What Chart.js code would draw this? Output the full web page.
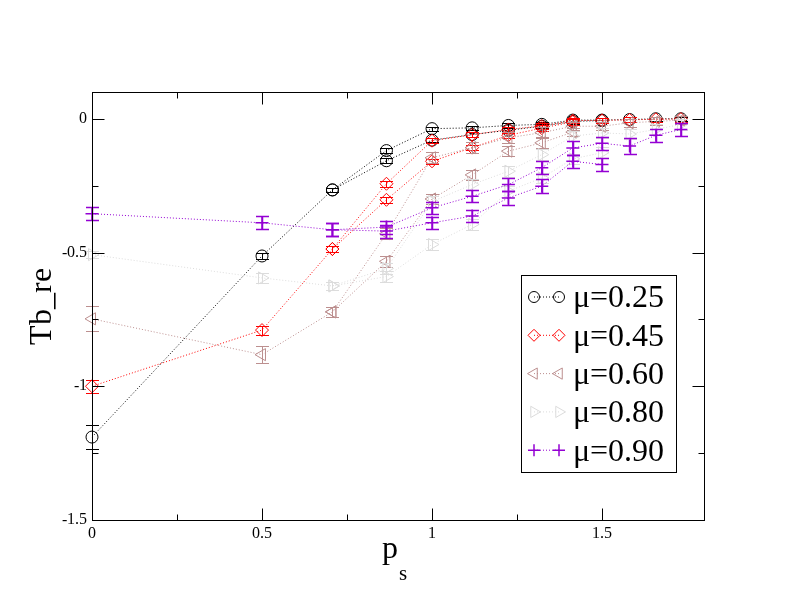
<!DOCTYPE html>
<html>
<head>
<meta charset="utf-8">
<script src="https://cdn.jsdelivr.net/npm/chart.js@4/dist/chart.umd.min.js"></script>
<style>
  @font-face {
    font-family: 'RefSerif';
    src: local('Liberation Serif'), local('LiberationSerif'), local('LiberationSerif-Regular'),
         local('DejaVu Serif'), local('DejaVuSerif');
  }
  body { margin: 0; background: #fff; }
  canvas { display: block; }
</style>
</head>
<body>
<canvas id="myChart" width="792" height="612"></canvas>
<script>
// momentum values p_s = sqrt(n)/2
const ps = [0, 0.5, 0.7071, 0.8660, 1.0, 1.1180, 1.2247, 1.3229, 1.4142, 1.5, 1.5811, 1.6583, 1.7321];
const muLabels = ['μ=0.25', 'μ=0.45', 'μ=0.60', 'μ=0.80', 'μ=0.90'];

// two branches for every mu (null = no point)
const tb025a = [-1.19, -0.513, -0.266, -0.119, -0.037, -0.034, -0.025, -0.021, -0.005, -0.005, -0.003, 0.0, 0.0];
const tb025b = [null, null, -0.266, -0.157, -0.080, -0.059, -0.043, -0.028, -0.010, -0.007, null, null, null];
const tb045a = [-1.0, -0.79, -0.487, -0.243, -0.082, -0.060, -0.040, -0.027, -0.007, -0.006, -0.004, -0.002, -0.001];
const tb045b = [null, null, -0.487, -0.303, -0.159, -0.108, -0.062, -0.035, -0.012, null, null, null, null];
const tb060a = [-0.748, -0.882, -0.722, -0.430, -0.146, -0.108, -0.071, -0.052, -0.028, -0.028, -0.015, -0.010, -0.005];
const tb060b = [null, null, -0.722, -0.533, -0.300, -0.210, -0.121, -0.090, -0.050, null, null, null, null];
const tb080a = [-0.508, -0.595, -0.625, -0.560, -0.310, -0.246, -0.196, -0.134, -0.065, -0.053, -0.057, -0.040, -0.021];
const tb080b = [null, null, -0.625, -0.590, -0.470, -0.395, -0.271, -0.221, -0.150, -0.127, null, null, null];
const tb090a = [-0.355, -0.389, -0.415, -0.405, -0.333, -0.290, -0.246, -0.183, -0.109, -0.092, -0.102, -0.062, -0.040];
const tb090b = [null, null, -0.415, -0.420, -0.389, -0.364, -0.296, -0.252, -0.159, -0.171, null, null, null];

// error bars
const err025a = [0.045, 0.012, 0.008, 0.010, 0.008, 0.008, 0.008, 0.008, 0.008, 0.008, 0.008, 0.008, 0.008];
const err025b = [0, 0, 0.008, 0.010, 0.008, 0.008, 0.008, 0.008, 0.008, 0.008, 0, 0, 0];
const err045a = [0.024, 0.017, 0.010, 0.012, 0.010, 0.010, 0.010, 0.010, 0.010, 0.010, 0.010, 0.010, 0.010];
const err045b = [0, 0, 0.010, 0.012, 0.010, 0.010, 0.010, 0.010, 0.010, 0, 0, 0, 0];
const err060a = [0.047, 0.031, 0.020, 0.020, 0.020, 0.020, 0.020, 0.020, 0.015, 0.015, 0.015, 0.015, 0.015];
const err060b = [0, 0, 0.020, 0.020, 0.020, 0.020, 0.020, 0.020, 0.015, 0, 0, 0, 0];
const err080a = [0.012, 0.018, 0.015, 0.020, 0.020, 0.020, 0.020, 0.020, 0.020, 0.020, 0.020, 0.020, 0.020];
const err080b = [0, 0, 0.015, 0.020, 0.020, 0.020, 0.020, 0.020, 0.020, 0.020, 0, 0, 0];
const err090a = [0.024, 0.024, 0.024, 0.024, 0.022, 0.022, 0.025, 0.025, 0.025, 0.025, 0.030, 0.025, 0.025];
const err090b = [0, 0, 0.024, 0.024, 0.022, 0.022, 0.025, 0.025, 0.025, 0.025, 0, 0, 0];

const series = [
  {label: muLabels[0], a: tb025a, b: tb025b, ea: err025a, eb: err025b, color: '#000000', style: 'circle', rot: 0, r: 6, w: 1},
  {label: muLabels[1], a: tb045a, b: tb045b, ea: err045a, eb: err045b, color: '#ff0000', style: 'rectRot', rot: 0, r: 6.5, w: 1},
  {label: muLabels[2], a: tb060a, b: tb060b, ea: err060a, eb: err060b, color: '#bc8f8f', style: 'triangle', rot: -90, r: 7, w: 1},
  {label: muLabels[3], a: tb080a, b: tb080b, ea: err080a, eb: err080b, color: '#dcdcdc', style: 'triangle', rot: 90, r: 7, w: 1},
  {label: muLabels[4], a: tb090a, b: tb090b, ea: err090a, eb: err090b, color: '#9400d3', style: 'cross', rot: 0, r: 6.5, w: 1.5}
];

const datasets = [];
series.forEach((s, i) => {
  [[s.a, s.ea], [s.b, s.eb]].forEach(([vals, errs], k) => {
    datasets.push({
      label: s.label,
      data: ps.map((x, j) => ({x: x, y: vals[j]})),
      errors: errs,
      borderColor: s.color,
      backgroundColor: 'rgba(0,0,0,0)',
      pointBorderColor: s.color,
      pointBackgroundColor: 'rgba(0,0,0,0)',
      pointStyle: s.style,
      pointRotation: s.rot,
      pointRadius: s.r,
      pointBorderWidth: s.w,
      borderWidth: 1,
      borderDash: [1, 2],
      tension: 0,
      clip: false,
      order: 20 - i * 2 - k
    });
  });
});

const serif = "RefSerif, 'Liberation Serif', 'DejaVu Serif', serif";
const isMajor = v => Math.abs(v * 2 - Math.round(v * 2)) < 1e-6;
const onQuarter = v => Math.abs(v * 4 - Math.round(v * 4)) < 1e-6;
const fmt = v => isMajor(v) ? String(Math.round(v * 100) / 100) : '';

// error bars drawn through the y scale
const errorBars = {
  id: 'errorBars',
  afterDatasetDraw(chart, args) {
    const ds = chart.data.datasets[args.index];
    const yScale = chart.scales.y;
    const ctx = chart.ctx;
    ctx.save();
    ctx.strokeStyle = ds.borderColor;
    ctx.lineWidth = ds.pointBorderWidth;
    args.meta.data.forEach((pt, j) => {
      const v = ds.data[j].y;
      const e = ds.errors[j];
      if (v === null || !e) return;
      const x = Math.round(pt.x) + 0.5;
      const y1 = Math.round(yScale.getPixelForValue(v + e)) + 0.5;
      const y2 = Math.round(yScale.getPixelForValue(v - e)) + 0.5;
      ctx.beginPath();
      ctx.moveTo(x, y1); ctx.lineTo(x, y2);
      ctx.moveTo(x - 6.5, y1); ctx.lineTo(x + 6.5, y1);
      ctx.moveTo(x - 6.5, y2); ctx.lineTo(x + 6.5, y2);
      ctx.stroke();
    });
    ctx.restore();
  }
};

// box frame with inward ticks on all four sides
const frame = {
  id: 'frame',
  afterDatasetsDraw(chart) {
    const {ctx, chartArea: a, scales} = chart;
    ctx.save();
    ctx.strokeStyle = '#000';
    ctx.lineWidth = 1;
    const L = Math.round(a.left) + 0.5, R = Math.round(a.right) + 0.5;
    const T = Math.round(a.top) + 0.5, B = Math.round(a.bottom) + 0.5;
    ctx.strokeRect(L, T, R - L, B - T);
    ctx.beginPath();
    scales.x.ticks.forEach(t => {
      const x = Math.round(scales.x.getPixelForValue(t.value)) + 0.5;
      const len = isMajor(t.value) ? 12 : 6;
      ctx.moveTo(x, B); ctx.lineTo(x, B - len);
      ctx.moveTo(x, T); ctx.lineTo(x, T + len);
    });
    scales.y.ticks.forEach(t => {
      const y = Math.round(scales.y.getPixelForValue(t.value)) + 0.5;
      const len = isMajor(t.value) ? 12 : 6;
      ctx.moveTo(L, y); ctx.lineTo(L + len, y);
      ctx.moveTo(R, y); ctx.lineTo(R - len, y);
    });
    ctx.stroke();
    ctx.restore();
  }
};

// x title with subscript, and the boxed legend
const extras = {
  id: 'extras',
  afterDraw(chart) {
    const {ctx, chartArea: a} = chart;
    ctx.save();
    ctx.fillStyle = '#000';
    ctx.textAlign = 'left';
    ctx.textBaseline = 'alphabetic';
    const cx = (a.left + a.right) / 2;
    ctx.font = '32px ' + serif;
    ctx.fillText('p', cx - 16, a.bottom + 38);
    ctx.font = '21px ' + serif;
    ctx.fillText('s', cx + 1, a.bottom + 60);

    const bx = Math.round(a.right - 183) + 0.5, by = Math.round(a.top + 183) + 0.5;
    const bw = 155, bh = 197;
    ctx.fillStyle = '#fff';
    ctx.fillRect(bx, by, bw, bh);
    ctx.strokeStyle = '#000';
    ctx.lineWidth = 1;
    ctx.strokeRect(bx, by, bw, bh);
    series.forEach((s, i) => {
      const yy = by + 21.5 + i * 38.3;
      ctx.save();
      ctx.strokeStyle = s.color;
      ctx.lineWidth = 1;
      ctx.setLineDash([1, 2]);
      ctx.beginPath();
      ctx.moveTo(bx + 12.5, yy); ctx.lineTo(bx + 37.5, yy);
      ctx.stroke();
      ctx.setLineDash([]);
      ctx.fillStyle = 'rgba(0,0,0,0)';
      ctx.lineWidth = s.w;
      [bx + 12.5, bx + 37.5].forEach(px => {
        Chart.helpers.drawPoint(ctx, {pointStyle: s.style, rotation: s.rot, radius: s.r - 0.5, borderWidth: s.w}, px, yy);
      });
      ctx.restore();
      ctx.fillStyle = '#000';
      ctx.font = '32px ' + serif;
      ctx.textBaseline = 'middle';
      ctx.fillText(s.label, bx + 51, yy + 2);
    });
    ctx.restore();
  }
};

function drawChart() {
  const ctx = document.getElementById('myChart').getContext('2d');
  new Chart(ctx, {
    type: 'line',
    data: {datasets: datasets},
    options: {
      responsive: false,
      animation: false,
      devicePixelRatio: 1,
      events: [],
      layout: {padding: {top: 92, right: 88, bottom: 0, left: 0}},
      plugins: {legend: {display: false}, tooltip: {enabled: false}},
      scales: {
        x: {
          type: 'linear',
          min: 0,
          max: 1.8,
          afterBuildTicks: s => { s.ticks = s.ticks.filter(t => onQuarter(t.value)); },
          afterFit: s => { s.height = 92; },
          grid: {display: false, drawTicks: false},
          border: {display: false},
          ticks: {stepSize: 0.25, autoSkip: false, maxRotation: 0, padding: 4, color: '#000',
                  font: {family: serif, size: 16}, callback: v => fmt(v)}
        },
        y: {
          type: 'linear',
          min: -1.5,
          max: 0.1,
          afterBuildTicks: s => { s.ticks = s.ticks.filter(t => onQuarter(t.value)); },
          afterFit: s => { s.width = 92; },
          grid: {display: false, drawTicks: false},
          border: {display: false},
          title: {display: true, text: 'Tb_re', color: '#000', font: {family: serif, size: 32}, padding: {top: 23, bottom: 0}},
          ticks: {stepSize: 0.25, autoSkip: false, padding: 5, color: '#000',
                  font: {family: serif, size: 16}, callback: v => fmt(v)}
        }
      }
    },
    plugins: [errorBars, frame, extras]
  });
}

if (document.fonts && document.fonts.load) {
  document.fonts.load('32px RefSerif').then(drawChart, drawChart);
} else {
  drawChart();
}
</script>
</body>
</html>
